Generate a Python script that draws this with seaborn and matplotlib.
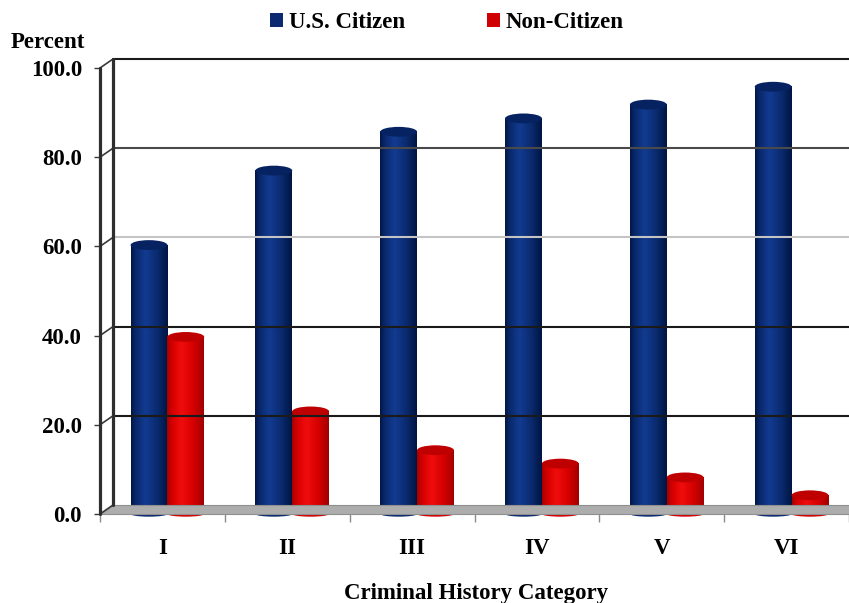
import numpy as np
import pandas as pd
import matplotlib
matplotlib.use("Agg")
import matplotlib.pyplot as plt
from matplotlib.lines import Line2D
from matplotlib.patches import Ellipse, Polygon, Patch
from matplotlib.colors import LinearSegmentedColormap
import seaborn as sns

categories = ["I", "II", "III", "IV", "V", "VI"]
us_citizen = [60.3, 77.0, 85.7, 88.7, 91.8, 95.8]
non_citizen = [39.7, 23.0, 14.3, 11.3, 8.2, 4.2]
series = ["U.S. Citizen", "Non-Citizen"]
y_ticks = [0, 20, 40, 60, 80, 100]

df = pd.DataFrame({
    "category": categories * 2,
    "percent": us_citizen + non_citizen,
    "group": [series[0]] * len(categories) + [series[1]] * len(categories),
})

sns.set_theme(style="white")
plt.rcParams["font.family"] = ["Liberation Serif", "DejaVu Serif"]
plt.rcParams["font.weight"] = "bold"
plt.rcParams["text.color"] = "black"
plt.rcParams["xtick.color"] = "black"
plt.rcParams["ytick.color"] = "black"
plt.rcParams["xtick.labelcolor"] = "black"
plt.rcParams["ytick.labelcolor"] = "black"
FS = 16.5

W, H = 849, 603
fig = plt.figure(figsize=(W / 100, H / 100), dpi=100)
ax = fig.add_axes([100 / W, 89 / H, 749 / W, 446 / H])
ax.set_facecolor("none")

palette = {series[0]: "#0b2a6f", series[1]: "#d00000"}
sns.barplot(data=df, x="category", y="percent", hue="group", order=categories,
            hue_order=series, palette=palette, width=0.59, saturation=1,
            legend=False, linewidth=0, ax=ax, zorder=3)
ax.set_xlim(-0.5, 5.5)
ax.set_ylim(0, 100)
for s in ax.spines.values():
    s.set_visible(False)

# depth offset of the back wall, in pixels
DX, DY = 13, 9


def front(x, y):
    return ax.transData.transform((x, y))


def back(x, y):
    return ax.transData.transform((x, y)) + np.array([DX, DY])


def pix_line(p0, p1, **kw):
    ln = Line2D([p0[0], p1[0]], [p0[1], p1[1]], transform=None, **kw)
    fig.add_artist(ln)
    return ln


# back wall gridlines
grid_colors = {20: "#1a1a1a", 40: "#1a1a1a", 60: "#c4c4c4", 80: "#4a4a4a", 100: "#1a1a1a"}
for v in y_ticks[1:]:
    pix_line(back(-0.5, v), (W + 5, back(-0.5, v)[1]), color=grid_colors[v], lw=1.5, zorder=0.5)
    pix_line(front(-0.5, v), back(-0.5, v), color="#3a3a3a", lw=1.2, zorder=0.6)

# floor
floor = Polygon([front(-0.5, 0), (W + 5, front(-0.5, 0)[1]), (W + 5, back(-0.5, 0)[1]), back(-0.5, 0)],
                closed=True, transform=None, facecolor="#adadad", edgecolor="#8f8f8f", lw=0.8, zorder=0.7)
fig.add_artist(floor)
pix_line(front(-0.5, 0), back(-0.5, 0), color="#3a3a3a", lw=1.2, zorder=0.8)

# back wall edge and front axis
pix_line(back(-0.5, 0), back(-0.5, 100), color="#2e2e2e", lw=2.3, zorder=0.9)
pix_line(front(-0.5, 0), front(-0.5, 100), color="#2e2e2e", lw=2.3, zorder=0.9)

# cylinder shading on the bars
shade = {
    series[0]: ("#001440", "#123a90", "#0a2a6e", "#062260"),
    series[1]: ("#a00000", "#f00c0c", "#d40000", "#bf0000"),
}
n = len(categories)
grad = np.concatenate([np.linspace(0, 1, 40) ** 0.7, np.linspace(1, 0, 60) ** 0.9])
for i, patch in enumerate(ax.patches):
    grp = series[0] if i < n else series[1]
    dark, light, mid, top = shade[grp]
    patch.set_x(patch.get_x() + 0.04)
    x0, y0 = patch.get_x(), patch.get_y()
    w, h = patch.get_width(), patch.get_height()
    cmap = LinearSegmentedColormap.from_list(grp, [dark, mid, light])
    ax.imshow(grad[np.newaxis, :], extent=[x0, x0 + w, y0, y0 + h], aspect="auto",
              cmap=cmap, zorder=3.1, interpolation="bicubic")
    ax.add_patch(Ellipse((x0 + w / 2, y0), w, 1.2, facecolor=mid, lw=0, zorder=2.9, clip_on=False))
    ax.add_patch(Ellipse((x0 + w / 2, y0 + h), w, 2.2, facecolor=top, lw=0, zorder=3.2))
ax.set_xlim(-0.5, 5.5)
ax.set_ylim(0, 100)

# ticks and labels
ax.set_yticks(y_ticks)
ax.set_yticklabels([f"{v:.1f}" for v in y_ticks], fontsize=FS, fontweight="bold", color="black")
ax.tick_params(axis="y", length=4, width=1, color="#3a3a3a", pad=9, left=True)
ax.set_xticks(range(n))
ax.set_xticklabels(categories, fontsize=FS, fontweight="bold", color="black")
ax.set_xticks(np.arange(-0.5, n, 1.0), minor=True)
ax.tick_params(axis="x", which="major", length=0, pad=17)
ax.tick_params(axis="x", which="minor", length=6, width=1, color="#8a8a8a", bottom=True)
ax.set_xlabel("")
ax.set_ylabel("")

fig.text(48 / W, 1 - 42 / H, "Percent", ha="center", va="center", fontsize=FS,
         fontweight="bold", color="black")
fig.text(476 / W, 1 - 599 / H, "Criminal History Category", ha="center", va="baseline",
         fontsize=FS, fontweight="bold", color="black")

handles = [Patch(facecolor=palette[s], edgecolor="none", label=s) for s in series]
leg = fig.legend(handles=handles, loc="center", bbox_to_anchor=(447 / W, 1 - 22.5 / H), ncol=2,
                 frameon=False, prop={"weight": "bold", "size": FS},
                 handlelength=0.55, handleheight=0.55, handletextpad=0.25, columnspacing=3.6,
                 borderpad=0, borderaxespad=0)
for t in leg.get_texts():
    t.set_color("black")

fig.savefig("out.png", dpi=100)
